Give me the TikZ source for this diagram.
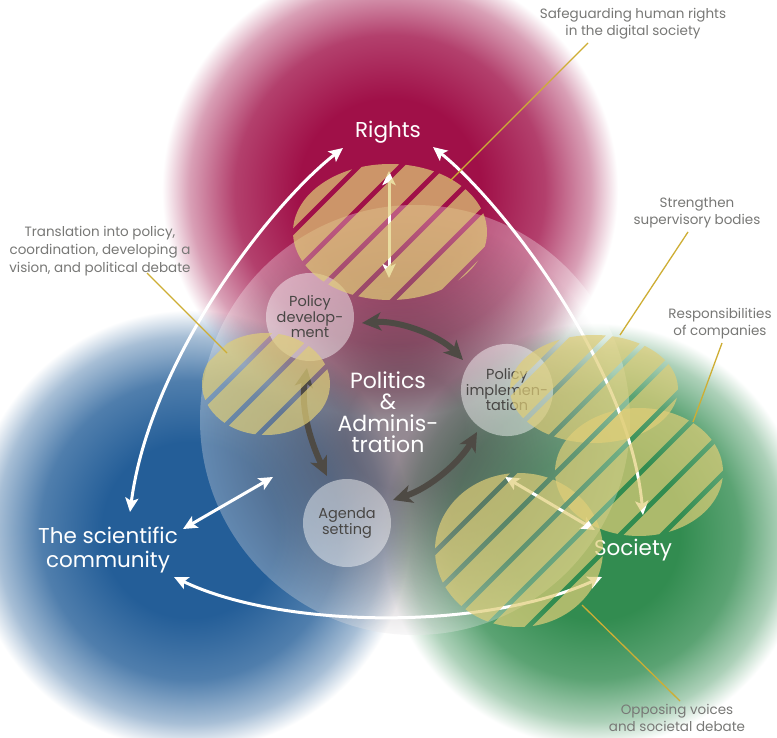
\documentclass[tikz,border=0pt]{standalone}
\usepackage{fontspec}
\setmainfont{Poppins}
\usetikzlibrary{arrows.meta}

\definecolor{redcore}{RGB}{160,16,72}
\definecolor{bluecore}{RGB}{36,94,152}
\definecolor{greencore}{RGB}{50,140,80}
\colorlet{redA}{redcore!80!white}
\colorlet{redB}{redcore!40!white}
\colorlet{blueA}{bluecore!80!white}
\colorlet{blueB}{bluecore!40!white}
\colorlet{greenA}{greencore!80!white}
\colorlet{greenB}{greencore!40!white}
\definecolor{greytint}{RGB}{148,137,146}
\definecolor{hatchtan}{RGB}{224,206,120}
\definecolor{darkarrow}{RGB}{78,74,68}
\definecolor{leader}{RGB}{206,174,52}
\definecolor{labelgrey}{RGB}{120,120,118}
\definecolor{nodetext}{RGB}{72,70,68}

% the circle edge of a shaded path lies at 25bp
\pgfdeclareradialshading{redglow}{\pgfpointorigin}{color(0bp)=(redcore); color(10bp)=(redcore); color(17bp)=(redA); color(22bp)=(redB); color(25bp)=(white); color(50bp)=(white)}
\pgfdeclareradialshading{blueglow}{\pgfpointorigin}{color(0bp)=(bluecore); color(10bp)=(bluecore); color(17bp)=(blueA); color(22bp)=(blueB); color(25bp)=(white); color(50bp)=(white)}
\pgfdeclareradialshading{greenglow}{\pgfpointorigin}{color(0bp)=(greencore); color(10bp)=(greencore); color(17bp)=(greenA); color(22bp)=(greenB); color(25bp)=(white); color(50bp)=(white)}
\pgfdeclareradialshading{greytintsh}{\pgfpointorigin}{color(0bp)=(greytint); color(7bp)=(greytint); color(25bp)=(white); color(50bp)=(white)}

\tikzset{
  glow/.style={shading=#1, blend mode=multiply},
  biglabel/.style={text=white, font=\fontsize{21.5}{24}\selectfont, align=center, inner sep=0pt},
  greylabel/.style={text=labelgrey, font=\fontsize{13.5}{17}\selectfont, align=center, inner sep=0pt},
  pnode/.style={circle, minimum size=88pt, inner sep=0pt, fill=white, fill opacity=0.45, text opacity=1,
    text=nodetext, align=center, font=\fontsize{14.5}{15.5}\selectfont},
  whitearrow/.style={draw=white, line width=3pt,
    arrows={Stealth[length=14pt,width=13pt,inset=3pt]-Stealth[length=14pt,width=13pt,inset=3pt]}},
  darkarr/.style={draw=darkarrow, line width=6pt,
    arrows={Stealth[length=19pt,width=18pt,inset=5pt]-Stealth[length=19pt,width=18pt,inset=5pt]}},
  stripe/.style={draw=hatchtan, draw opacity=0.7, line width=24.5pt},
  leaderline/.style={draw=leader, line width=1.3pt},
}

\newcommand{\hatchell}[3]{%
  \begin{scope}
    \clip #1 ellipse [x radius=#2, y radius=#3];
    \foreach \k in {0,...,38} {\draw[stripe] (\k*42,0) -- ++(-800,800);}
  \end{scope}}

\begin{document}
\begin{tikzpicture}[x=1pt,y=-1pt]
\useasboundingbox (0,0) rectangle (777,738);
\fill[white] (0,0) rectangle (777,738);

% coloured discs
\shade[glow=blueglow] (190,530) circle [radius=220pt];
\shade[glow=greenglow] (595,535) circle [radius=212pt];
\shade[glow=redglow] (390,190) circle [radius=228pt];

% central politics circle
\coordinate (pa) at (415,420);
\fill[white, opacity=0.3] (pa) circle [radius=215pt];
\begin{scope}
  \clip (pa) circle [radius=215pt];
  \shade[glow=greytintsh] (405,430) circle [radius=215pt];
\end{scope}

% process circles
\node[pnode] (dev) at (310,317) {Policy\\develop-\\ment};
\node[pnode] (impl) at (507,390) {Policy\\implemen-\\tation};
\node[pnode] (agenda) at (347,523) {Agenda\\setting};

% coordinates for arrows
\coordinate (rsA) at (343,148);
\coordinate (rsB) at (130,512);
\coordinate (roA) at (433,147);
\coordinate (roB) at (643,515);
\coordinate (soA) at (174,577);
\coordinate (soB) at (602,577);
\coordinate (scA) at (183,529);
\coordinate (scB) at (273,477);
\coordinate (rvA) at (389,171);
\coordinate (rvB) at (389,278);
\coordinate (svA) at (505,477);
\coordinate (svB) at (595,530);

% white arrows
\draw[whitearrow] (rsA) .. controls (270,205) and (150,360) .. (rsB);
\draw[whitearrow] (roA) .. controls (505,205) and (630,370) .. (roB);
\draw[whitearrow] (soA) .. controls (280,628) and (480,632) .. (soB);
\draw[whitearrow] (scA) -- (scB);
\draw[whitearrow] (rvA) -- (rvB);
\draw[whitearrow] (svA) -- (svB);

% dark arrows
\coordinate (d1) at (362,323);
\coordinate (d2) at (463,360);
\coordinate (d3) at (307,368);
\coordinate (d4) at (327,476);
\coordinate (d5) at (393,500);
\coordinate (d6) at (477,432);
\draw[darkarr] (d1) .. controls (400,320) and (440,336) .. (d2);
\draw[darkarr] (d3) .. controls (300,410) and (312,445) .. (d4);
\draw[darkarr] (d5) .. controls (430,488) and (460,462) .. (d6);

\node[biglabel] (soc) at (633,550) {Society};

% hatched areas
\coordinate (hR) at (390,232);
\coordinate (hL) at (266,384);
\coordinate (hT) at (594,389);
\coordinate (hC) at (639,472);
\coordinate (hB) at (519,550);
\hatchell{(hR)}{97pt}{68pt}
\hatchell{(hL)}{64pt}{51pt}
\hatchell{(hT)}{84pt}{54pt}
\hatchell{(hC)}{84pt}{64pt}
\hatchell{(hB)}{84pt}{77pt}

% main labels
\node[biglabel] (rights) at (388,132) {Rights};
\node[biglabel] (sci) at (108,550) {The scientific\\community};
\node[biglabel, font=\fontsize{22}{21.5}\selectfont] (pol) at (388,412) {Politics\\\&\\Adminis-\\tration};

% grey labels
\node[greylabel] (safe) at (633,24) {Safeguarding human rights\\in the digital society};
\node[greylabel, font=\fontsize{13.5}{18.3}\selectfont] (trans) at (100,251) {Translation into policy,\\coordination, developing a\\vision, and political debate};
\node[greylabel] (stren) at (697,213) {Strengthen\\supervisory bodies};
\node[greylabel] (resp) at (720,324) {Responsibilities\\of companies};
\node[greylabel] (opp) at (677,718) {Opposing voices\\and societal debate};

% leader lines
\coordinate (l1a) at (588,43);  \coordinate (l1b) at (450,181);
\coordinate (l2a) at (147,273); \coordinate (l2b) at (227,353);
\coordinate (l3a) at (688,232); \coordinate (l3b) at (620,335);
\coordinate (l4a) at (722,343); \coordinate (l4b) at (693,422);
\coordinate (l5a) at (680,701); \coordinate (l5b) at (582,605);
\draw[leaderline] (l1a) -- (l1b);
\draw[leaderline] (l2a) -- (l2b);
\draw[leaderline] (l3a) -- (l3b);
\draw[leaderline] (l4a) -- (l4b);
\draw[leaderline] (l5a) -- (l5b);
\end{tikzpicture}
\end{document}
